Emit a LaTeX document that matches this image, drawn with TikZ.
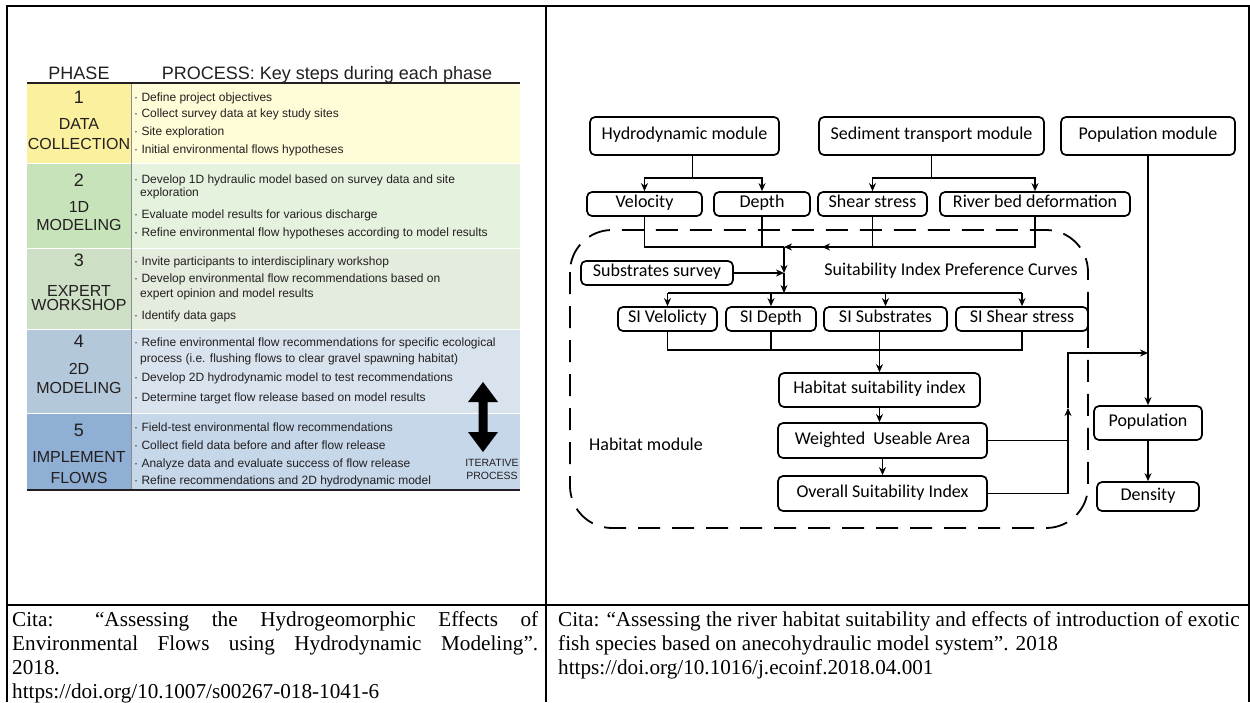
\documentclass[tikz,border=0pt]{standalone}
\usepackage{fontspec}
\setmainfont{Liberation Serif}
\newfontfamily\tabfont{Liberation Sans}
\newfontfamily\diafont{Carlito}
\usetikzlibrary{arrows.meta}
\definecolor{ink}{HTML}{231F20}
\definecolor{phA}{HTML}{FAF09E}\definecolor{prA}{HTML}{FFFCD8}
\definecolor{phB}{HTML}{C7E3BA}\definecolor{prB}{HTML}{E5F2DE}
\definecolor{phC}{HTML}{CDDFC5}\definecolor{prC}{HTML}{E3ECDD}
\definecolor{phD}{HTML}{B4C8DB}\definecolor{prD}{HTML}{D8E3ED}
\definecolor{phE}{HTML}{90AFD5}\definecolor{prE}{HTML}{C6D7EA}
\begin{document}
\begin{tikzpicture}[x=1pt,y=-1pt,
  frame/.style={line width=2pt},
  phnum/.style={font=\tabfont\fontsize{18}{18}\selectfont, text=ink, anchor=base, inner sep=0pt},
  phlab/.style={font=\tabfont\fontsize{16}{16}\selectfont, text=ink, anchor=base, inner sep=0pt},
  hdr/.style={font=\tabfont\fontsize{18}{18}\selectfont, text=ink, anchor=base, inner sep=0pt},
  itm/.style={font=\tabfont\fontsize{12}{12}\selectfont, text=ink, anchor=base west, inner sep=0pt},
  itr/.style={font=\tabfont\fontsize{10.5}{10.5}\selectfont, text=ink, anchor=base, inner sep=0pt},
  mbox/.style={draw, line width=1.7pt, rounded corners=5pt, font=\diafont\fontsize{18}{18}\selectfont,
    text height=11pt, text depth=3.5pt, inner sep=0pt},
  dtext/.style={font=\diafont\fontsize{18}{18}\selectfont, inner sep=0pt},
  link/.style={line width=1.7pt},
  arr/.style={line width=1.7pt, -{Stealth[length=8pt,width=7pt]}},
  cit/.style={font=\fontsize{21.2}{24}\selectfont, anchor=base west, inner sep=0pt}
]
\useasboundingbox (0,0) rectangle (1250,702);
\fill[white] (0,0) rectangle (1250,702);

% ---------- left: phase table ----------
\fill[phA] (27,84) rectangle (131,163);  \fill[prA] (131,84) rectangle (520,163);
\fill[phB] (27,163) rectangle (131,248); \fill[prB] (131,163) rectangle (520,248);
\fill[phC] (27,248) rectangle (131,329); \fill[prC] (131,248) rectangle (520,329);
\fill[phD] (27,329) rectangle (131,413); \fill[prD] (131,329) rectangle (520,413);
\fill[phE] (27,413) rectangle (131,490); \fill[prE] (131,413) rectangle (520,490);
\foreach \yy in {163,248,329,413} \draw[white, line width=1pt] (27,\yy) -- (520,\yy);
\draw[black!45, line width=0.8pt] (131,84) -- (131,490);
\draw[ink, line width=1.4pt] (27,83) -- (520,83);
\draw[ink, line width=1.6pt] (27,490) -- (520,490);

\node[hdr] (hph) at (79,79) {PHASE};
\node[hdr] (hpr) at (327,79) {PROCESS: Key steps during each phase};

\node[phnum] (n1) at (79,103.5) {1};
\node[phlab] (p1a) at (79,129) {DATA};
\node[phlab] (p1b) at (79,149) {COLLECTION};
\node[phnum] (n2) at (79,186.5) {2};
\node[phlab] (p2a) at (79,212) {1D};
\node[phlab] (p2b) at (79,230) {MODELING};
\node[phnum] (n3) at (79,266.5) {3};
\node[phlab] (p3a) at (79,296) {EXPERT};
\node[phlab] (p3b) at (79,310) {WORKSHOP};
\node[phnum] (n4) at (79,347.5) {4};
\node[phlab] (p4a) at (79,374) {2D};
\node[phlab] (p4b) at (79,393) {MODELING};
\node[phnum] (n5) at (79,436.5) {5};
\node[phlab] (p5a) at (79,462) {IMPLEMENT};
\node[phlab] (p5b) at (79,483) {FLOWS};

\node[itm] (i1a) at (134,101) {· Define project objectives};
\node[itm] (i1b) at (134,117) {· Collect survey data at key study sites};
\node[itm] (i1c) at (134,135) {· Site exploration};
\node[itm] (i1d) at (134,153) {· Initial environmental flows hypotheses};
\node[itm] (i2a) at (134,183) {· Develop 1D hydraulic model based on survey data and site};
\node[itm] (i2b) at (140,196) {exploration};
\node[itm] (i2c) at (134,218) {· Evaluate model results for various discharge};
\node[itm] (i2d) at (134,236) {· Refine environmental flow hypotheses according to model results};
\node[itm] (i3a) at (134,265) {· Invite participants to interdisciplinary workshop};
\node[itm] (i3b) at (134,282) {· Develop environmental flow recommendations based on};
\node[itm] (i3c) at (140,297) {expert opinion and model results};
\node[itm] (i3d) at (134,319) {· Identify data gaps};
\node[itm] (i4a) at (134,346) {· Refine environmental flow recommendations for specific ecological};
\node[itm] (i4b) at (140,362) {process (i.e. flushing flows to clear gravel spawning habitat)};
\node[itm] (i4c) at (134,381) {· Develop 2D hydrodynamic model to test recommendations};
\node[itm] (i4d) at (134,401) {· Determine target flow release based on model results};
\node[itm] (i5a) at (134,431) {· Field-test environmental flow recommendations};
\node[itm] (i5b) at (134,449) {· Collect field data before and after flow release};
\node[itm] (i5c) at (134,467) {· Analyze data and evaluate success of flow release};
\node[itm] (i5d) at (134,484) {· Refine recommendations and 2D hydrodynamic model};

% iterative double arrow
\fill[black] (483,382) -- (498,402) -- (487.5,402) -- (487.5,432) -- (498,432) -- (483,452)
  -- (468,432) -- (478.5,432) -- (478.5,402) -- (468,402) -- cycle;
\node[itr] (it1) at (492,466) {ITERATIVE};
\node[itr] (it2) at (492,479) {PROCESS};

% ---------- right: model system ----------
\node[mbox, minimum width=189pt, minimum height=38pt] (hydro) at (684.5,136) {Hydrodynamic module};
\node[mbox, minimum width=225pt, minimum height=38pt] (sed) at (931.5,136) {Sediment transport module};
\node[mbox, minimum width=174pt, minimum height=38pt] (popm) at (1148,136) {Population module};

\node[mbox, minimum width=115pt, minimum height=24pt] (vel) at (644.5,204) {Velocity};
\node[mbox, minimum width=96pt, minimum height=24pt] (dep) at (762,204) {Depth};
\node[mbox, minimum width=109pt, minimum height=24pt] (shear) at (872.5,204) {Shear stress};
\node[mbox, minimum width=190pt, minimum height=24pt] (rbd) at (1035,204) {River bed deformation};

\node[mbox, minimum width=152pt, minimum height=24pt] (subs) at (657,273) {Substrates survey};
\node[dtext] (sipc) at (951,271) {Suitability Index Preference Curves};

\node[mbox, minimum width=99pt, minimum height=24pt] (siv) at (667.5,319) {SI Velolicty};
\node[mbox, minimum width=90pt, minimum height=24pt] (sid) at (771,319) {SI Depth};
\node[mbox, minimum width=123pt, minimum height=24pt] (sis) at (885.5,319) {SI Substrates};
\node[mbox, minimum width=132pt, minimum height=24pt] (sish) at (1022,319) {SI Shear stress};

\node[mbox, minimum width=201pt, minimum height=34pt] (hsi) at (879.5,390) {Habitat suitability index};
\node[mbox, minimum width=209pt, minimum height=35pt] (wua) at (882.5,440.5) {Weighted\ \ Useable Area};
\node[mbox, minimum width=209pt, minimum height=35pt] (osi) at (882.5,493.5) {Overall Suitability Index};
\node[dtext] (hmod) at (646,444) {Habitat module};

\node[mbox, minimum width=108pt, minimum height=34pt] (pop) at (1148,423) {Population};
\node[mbox, minimum width=102pt, minimum height=29pt] (den) at (1148,496.5) {Density};

% habitat module boundary
\draw[line width=1.8pt, dash pattern=on 22pt off 12pt, rounded corners=42pt] (570,230) rectangle (1088,528);

% module outputs
\draw[link] (hydro.south) ++(8,0) -- ++(0,22) coordinate (hj);
\draw[arr] (hj) -| (vel.north);
\draw[arr] (hj) -| (dep.north);
\draw[link] (sed.south) -- ++(0,22) coordinate (sj0);
\draw[arr] (sj0) -| (shear.north);
\draw[arr] (sj0) -| (rbd.north);

% collecting bus into the habitat module
\coordinate (bus) at (784,247);
\coordinate (busb) at (822,247);
\coordinate (sj) at (784,273);
\coordinate (dj) at (784,293);
\draw[link] (vel.south) |- (bus);
\draw[link] (dep.south) -- (dep.south |- bus);
\draw[arr] (rbd.south) |- (bus);
\draw[arr] (shear.south) |- (busb);
\draw[arr] (bus) -- (sj);
\draw[arr] (subs.east) -- (sj);
\draw[arr] (sj) -- (dj);

% distribution to the SI curves
\draw[link] (siv.north |- dj) -- (sish.north |- dj);
\draw[arr] (siv.north |- dj) -- (siv.north);
\draw[arr] (sid.north |- dj) -- (sid.north);
\draw[arr] (sis.north |- dj) -- (sis.north);
\draw[arr] (sish.north |- dj) -- (sish.north);

% combination into habitat suitability
\coordinate (cb) at (880,350);
\draw[link] (siv.south) -- (siv.south |- cb) -- (sish.south |- cb) -- (sish.south);
\draw[link] (sid.south) -- (sid.south |- cb);
\draw[arr] (hsi.north |- sis.south) -- (hsi.north);
\draw[arr] (hsi.south) -- (hsi.south |- wua.north);
\draw[arr] (wua.south) -- (osi.north);

% feedback to the population module
\coordinate (rv) at (1068,408);
\coordinate (rt) at (1068,353);
\draw[link] (wua.east) -- (wua.east -| rv);
\draw[arr] (osi.east) -| (rv);
\draw[arr] (rv) |- (popm.south |- rt);
\draw[arr] (popm.south) -- (pop.north);
\draw[arr] (pop.south) -- (den.north);

% ---------- table frame ----------
\draw[frame] (7,702) -- (7,6) -- (1249,6) -- (1249,702);
\draw[frame] (546,6) -- (546,702);
\draw[frame] (7,605) -- (1249,605);

% ---------- citations ----------
\node[cit] (c1a) at (12,626) {\makebox[526pt][s]{Cita: “Assessing the Hydrogeomorphic Effects of}};
\node[cit] (c1b) at (12,650) {\makebox[526pt][s]{Environmental Flows using Hydrodynamic Modeling”.}};
\node[cit] (c1c) at (12,674) {2018.};
\node[cit] (c1d) at (12,698) {https://doi.org/10.1007/s00267-018-1041-6};
\node[cit] (c2a) at (558,626) {Cita: “Assessing the river habitat suitability and effects of introduction of exotic};
\node[cit] (c2b) at (558,650) {fish species based on anecohydraulic model system”. 2018};
\node[cit] (c2c) at (558,674) {https://doi.org/10.1016/j.ecoinf.2018.04.001};
\end{tikzpicture}
\end{document}
